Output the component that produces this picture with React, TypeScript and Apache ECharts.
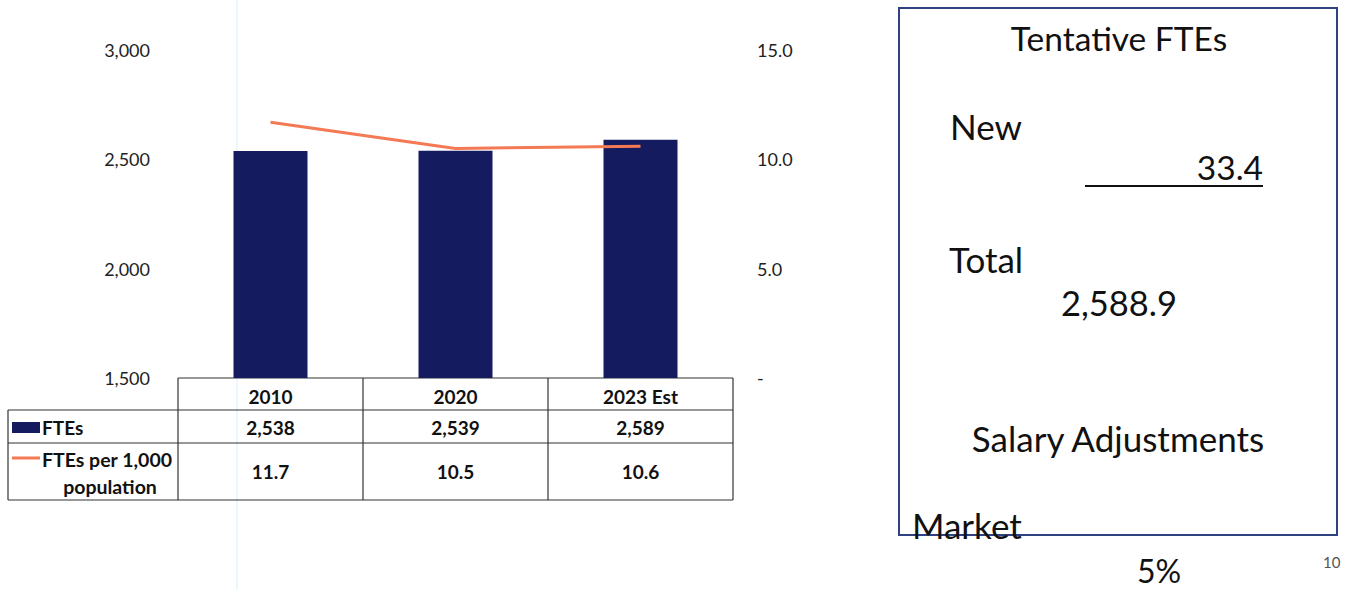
import React, { useEffect, useRef } from "react";
import * as echarts from "echarts";

const categories = ["2010", "2020", "2023 Est"];
const ftes = [2538, 2539, 2589];
const ftesPer1000 = [11.7, 10.5, 10.6];
const ftesLabels = ["2,538", "2,539", "2,589"];
const perLabels = ["11.7", "10.5", "10.6"];
const seriesNames = ["FTEs", "FTEs per 1,000 population"];
const panelTitle = "Tentative FTEs";
const panelNewLabel = "New";
const panelNewValue = "33.4";
const panelTotalLabel = "Total";
const panelTotalValue = "2,588.9";
const panelSalary = "Salary Adjustments";
const panelMarket = "Market";
const panelPct = "5%";
const pageNumber = "10";

const NAVY = "#141b5e";
const ORANGE = "#f47a55";
const FONT = "Lato, 'Open Sans', sans-serif";

export default function App() {
  const ref = useRef<HTMLDivElement>(null);
  useEffect(() => {
    if (!ref.current) return;
    const chart = echarts.init(ref.current, null, { renderer: "svg" });
    const gridLeft = 178;
    const gridRight = 733;
    const gridTop = 50;
    const gridBottom = 378;
    chart.setOption({
      animation: false,
      backgroundColor: "#ffffff",
      textStyle: { fontFamily: FONT },
      grid: {
        left: gridLeft,
        right: 1346 - gridRight,
        top: gridTop,
        bottom: 589 - gridBottom,
      },
      xAxis: {
        type: "category",
        data: categories,
        axisLine: { show: false },
        axisTick: { show: false },
        axisLabel: {
          show: true,
          margin: 9,
          color: "#111",
          fontFamily: FONT,
          fontWeight: "bold",
          fontSize: 19,
        },
      },
      yAxis: [
        {
          type: "value",
          min: 1500,
          max: 3000,
          interval: 500,
          splitLine: { show: false },
          axisLine: { show: false },
          axisTick: { show: false },
          axisLabel: {
            margin: 28,
            color: "#222",
            fontFamily: FONT,
            fontSize: 18,
            formatter: (v: number) => v.toLocaleString("en-US"),
          },
        },
        {
          type: "value",
          min: 0,
          max: 15,
          interval: 5,
          position: "right",
          splitLine: { show: false },
          axisLine: { show: false },
          axisTick: { show: false },
          axisLabel: {
            margin: 24,
            color: "#222",
            fontFamily: FONT,
            fontSize: 18,
            formatter: (v: number) => (v === 0 ? "-" : v.toFixed(1)),
          },
        },
      ],
      series: [
        {
          name: seriesNames[0],
          type: "bar",
          data: ftes,
          barWidth: "40%",
          itemStyle: { color: NAVY },
          yAxisIndex: 0,
        },
        {
          name: seriesNames[1],
          type: "line",
          data: ftesPer1000,
          yAxisIndex: 1,
          symbol: "none",
          lineStyle: { color: ORANGE, width: 3 },
          z: 5,
        },
      ],
    });

    const xs = categories.map((c) => chart.convertToPixel({ xAxisIndex: 0 }, c) as number);
    const half = (xs[1] - xs[0]) / 2;
    const bounds = [xs[0] - half, ...xs.map((x) => x + half)];
    const rowY = [gridBottom, 410, 443, 500];
    const tableLeft = 8;
    const lineStyle = { stroke: "#333", lineWidth: 1.2 };
    const els: any[] = [];
    // faint vertical scan line
    els.push({ type: "line", shape: { x1: 237, y1: 0, x2: 237, y2: 589 }, style: { stroke: "#eaf7fc", lineWidth: 2 }, z: -1 });
    // horizontal table lines
    els.push({ type: "line", shape: { x1: bounds[0], y1: rowY[0], x2: bounds[3], y2: rowY[0] }, style: lineStyle });
    for (let i = 1; i < rowY.length; i++) {
      els.push({ type: "line", shape: { x1: tableLeft, y1: rowY[i], x2: bounds[3], y2: rowY[i] }, style: lineStyle });
    }
    // vertical table lines
    els.push({ type: "line", shape: { x1: tableLeft, y1: rowY[1], x2: tableLeft, y2: rowY[3] }, style: lineStyle });
    bounds.forEach((b) => {
      els.push({ type: "line", shape: { x1: b, y1: rowY[0], x2: b, y2: rowY[3] }, style: lineStyle });
    });
    // values
    const cellText = (x: number, y: number, t: string) => ({
      type: "text",
      x,
      y,
      style: { text: t, fontFamily: FONT, fontWeight: "bold", fontSize: 19, fill: "#111", align: "center", verticalAlign: "middle" },
    });
    xs.forEach((x, i) => {
      els.push(cellText(x, (rowY[1] + rowY[2]) / 2 + 1, ftesLabels[i]));
      els.push(cellText(x, (rowY[2] + rowY[3]) / 2, perLabels[i]));
    });
    // legend keys
    els.push({ type: "rect", shape: { x: 12, y: 422, width: 28, height: 11 }, style: { fill: NAVY } });
    els.push({ type: "line", shape: { x1: 12, y1: 458, x2: 40, y2: 458 }, style: { stroke: ORANGE, lineWidth: 3 } });
    els.push({
      type: "text", x: 42, y: 427,
      style: { text: seriesNames[0], fontFamily: FONT, fontWeight: "bold", fontSize: 19, fill: "#111", align: "left", verticalAlign: "middle" },
    });
    els.push({
      type: "text", x: 42, y: 459,
      style: { text: "FTEs per 1,000", fontFamily: FONT, fontWeight: "bold", fontSize: 19.5, fill: "#111", align: "left", verticalAlign: "middle" },
    });
    els.push({
      type: "text", x: 110, y: 486,
      style: { text: "population", fontFamily: FONT, fontWeight: "bold", fontSize: 19.5, fill: "#111", align: "center", verticalAlign: "middle" },
    });

    // right panel
    els.push({ type: "rect", shape: { x: 899, y: 8, width: 438, height: 527 }, style: { fill: "none", stroke: "#2f4180", lineWidth: 2 } });
    const pText = (x: number, y: number, t: string, align: string, size = 35) => ({
      type: "text", x, y,
      style: { text: t, fontFamily: FONT, fontSize: size, fill: "#111", align, verticalAlign: "middle" },
    });
    els.push(pText(1119, 38, panelTitle, "center", 33.5));
    els.push(pText(950, 126, panelNewLabel, "left"));
    els.push(pText(1263, 167, panelNewValue, "right", 33.5));
    els.push({ type: "line", shape: { x1: 1085, y1: 186, x2: 1263, y2: 186 }, style: { stroke: "#111", lineWidth: 2 } });
    els.push(pText(949, 259, panelTotalLabel, "left"));
    els.push(pText(1119, 302, panelTotalValue, "center", 34.5));
    els.push(pText(1118, 438, panelSalary, "center"));
    els.push(pText(912, 525, panelMarket, "left"));
    els.push(pText(1159, 570, panelPct, "center", 32));
    els.push({
      type: "text", x: 1323, y: 562,
      style: { text: pageNumber, fontFamily: FONT, fontSize: 15, fill: "#555", align: "left", verticalAlign: "middle" },
    });

    chart.setOption({ graphic: { elements: els } });
    return () => chart.dispose();
  }, []);
  return <div ref={ref} style={{ position: "absolute", left: 0, top: 0, width: 1346, height: 589 }} />;
}
